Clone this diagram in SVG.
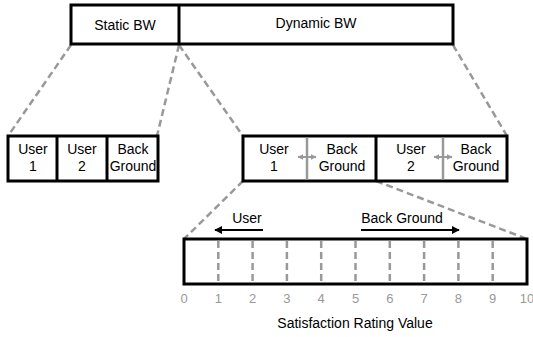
<svg xmlns="http://www.w3.org/2000/svg" width="533" height="337" viewBox="0 0 533 337">
<defs>
<style>
.box{fill:#fff;stroke:#000;stroke-width:3}
.div{stroke:#000;stroke-width:3}
.gdiv{stroke:#999;stroke-width:2.5}
.dash{stroke:#999;stroke-width:2.5;stroke-dasharray:7 4;fill:none}
.t{font-family:"Liberation Sans",Arial,sans-serif;font-size:14px;fill:#000;text-anchor:middle}
.n{font-family:"Liberation Sans",Arial,sans-serif;font-size:13px;fill:#999;text-anchor:middle}
.arr{stroke:#000;stroke-width:2;fill:none}
.garr{stroke:#999;stroke-width:2;fill:none}
</style>
<marker id="ah" viewBox="0 0 10 10" refX="9" refY="5" markerWidth="4" markerHeight="4" orient="auto-start-reverse" markerUnits="strokeWidth">
<path d="M0,0 L10,5 L0,10 z" fill="#000"/>
</marker>
<marker id="gah" viewBox="0 0 10 10" refX="9" refY="5" markerWidth="3" markerHeight="3" orient="auto-start-reverse" markerUnits="strokeWidth">
<path d="M0,0 L10,5 L0,10 z" fill="#999"/>
</marker>
</defs>

<g id="connectors">
<line class="dash" x1="71" y1="45" x2="8" y2="136"/>
<line class="dash" x1="179" y1="45" x2="157" y2="136"/>
<line class="dash" x1="179" y1="45" x2="243" y2="136"/>
<line class="dash" x1="453" y1="45" x2="507" y2="136"/>
<line class="dash" x1="243" y1="181" x2="184" y2="239"/>
<line class="dash" x1="376" y1="181" x2="527" y2="239"/>
</g>

<g id="top-bar">
<rect class="box" x="71" y="5" width="382" height="39"/>
<line class="div" x1="179" y1="5" x2="179" y2="44"/>
<text class="t" x="125" y="30">Static BW</text>
<text class="t" x="316" y="28">Dynamic BW</text>
</g>

<g id="static-detail">
<rect class="box" x="8" y="136" width="150" height="45"/>
<line class="div" x1="57" y1="136" x2="57" y2="181"/>
<line class="div" x1="107" y1="136" x2="107" y2="181"/>
<text class="t" x="33" y="154">User</text>
<text class="t" x="33" y="171">1</text>
<text class="t" x="82" y="154">User</text>
<text class="t" x="82" y="171">2</text>
<text class="t" x="133" y="154">Back</text>
<text class="t" x="133" y="171">Ground</text>
</g>

<g id="dynamic-detail">
<rect class="box" x="243" y="136" width="264" height="45"/>
<line class="div" x1="376" y1="136" x2="376" y2="181"/>
<line class="gdiv" x1="307" y1="137.5" x2="307" y2="179.5"/>
<line class="gdiv" x1="443" y1="137.5" x2="443" y2="179.5"/>
<line class="garr" x1="298" y1="157" x2="316" y2="157" marker-start="url(#gah)" marker-end="url(#gah)"/>
<line class="garr" x1="434" y1="157" x2="452" y2="157" marker-start="url(#gah)" marker-end="url(#gah)"/>
<text class="t" x="274" y="154">User</text>
<text class="t" x="274" y="171">1</text>
<text class="t" x="342" y="154">Back</text>
<text class="t" x="342" y="171">Ground</text>
<text class="t" x="411" y="154">User</text>
<text class="t" x="411" y="171">2</text>
<text class="t" x="476" y="154">Back</text>
<text class="t" x="476" y="171">Ground</text>
</g>

<g id="rating-scale">
<rect class="box" x="184" y="239" width="343" height="45"/>
<g class="dash">
<line x1="218.3" y1="241" x2="218.3" y2="283"/>
<line x1="252.6" y1="241" x2="252.6" y2="283"/>
<line x1="286.9" y1="241" x2="286.9" y2="283"/>
<line x1="321.2" y1="241" x2="321.2" y2="283"/>
<line x1="355.5" y1="241" x2="355.5" y2="283"/>
<line x1="389.8" y1="241" x2="389.8" y2="283"/>
<line x1="424.1" y1="241" x2="424.1" y2="283"/>
<line x1="458.4" y1="241" x2="458.4" y2="283"/>
<line x1="492.7" y1="241" x2="492.7" y2="283"/>
</g>
<text class="n" x="184" y="303">0</text>
<text class="n" x="218.3" y="303">1</text>
<text class="n" x="252.6" y="303">2</text>
<text class="n" x="286.9" y="303">3</text>
<text class="n" x="321.2" y="303">4</text>
<text class="n" x="355.5" y="303">5</text>
<text class="n" x="389.8" y="303">6</text>
<text class="n" x="424.1" y="303">7</text>
<text class="n" x="458.4" y="303">8</text>
<text class="n" x="492.7" y="303">9</text>
<text class="n" x="527" y="303">10</text>
<text class="t" x="355" y="328">Satisfaction Rating Value</text>
</g>

<g id="user-direction">
<line class="arr" x1="263" y1="230" x2="215" y2="230" marker-end="url(#ah)"/>
<text class="t" x="247" y="223">User</text>
</g>

<g id="background-direction">
<line class="arr" x1="361" y1="230" x2="459" y2="230" marker-end="url(#ah)"/>
<text class="t" x="402" y="223">Back Ground</text>
</g>
</svg>
